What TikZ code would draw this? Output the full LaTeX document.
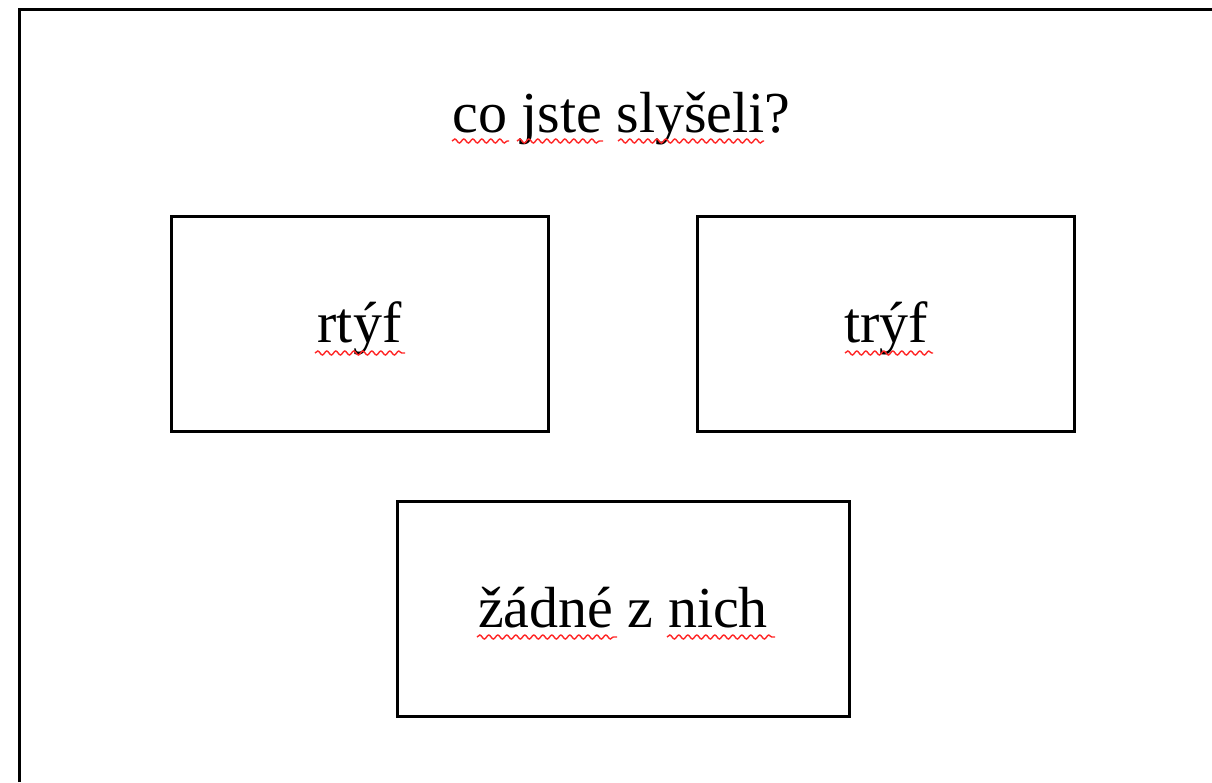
\documentclass[tikz,border=0pt]{standalone}
\usepackage{fontspec}
\setmainfont{Liberation Serif}
\usetikzlibrary{decorations.pathmorphing}
\tikzset{
  frame/.style={draw=black, line width=3pt},
  choice/.style={draw=black, line width=3pt, minimum width=377pt, minimum height=215pt, inner sep=0pt},
  bigchoice/.style={choice, minimum width=452pt},
  label/.style={anchor=base, inner sep=0pt, font=\fontsize{58}{60}\selectfont},
  spell/.style={draw=red!85!white, line width=1.4pt, decorate, decoration={snake, segment length=9pt, amplitude=2pt}}
}
\begin{document}
\begin{tikzpicture}[x=1pt,y=-1pt]
\useasboundingbox (0,0) rectangle (1212,782);
\fill[white] (0,0) rectangle (1212,782);
\draw[frame] (19,782) -- (19,9.5) -- (1212,9.5);

\node[label] (title) at (621.5,132) {co jste slyšeli?};

\node[choice] (b1) at (359.5,323.5) {};
\node[choice] (b2) at (886,323.5) {};
\node[bigchoice] (b3) at (623,609) {};

\node[label] (t1) at ([yshift=-19pt]b1.center) {rtýf};
\node[label] (t2) at ([yshift=-19pt]b2.center) {trýf};
\node[label] (t3) at ([yshift=-18pt]b3.center) {žádné z nich};

\draw[spell] (452,141) -- (509,141);
\draw[spell] (517,141) -- (603,141);
\draw[spell] (618,141) -- (764,141);
\draw[spell] (315,353) -- (405,353);
\draw[spell] (845,353) -- (933,353);
\draw[spell] (477,637) -- (617,637);
\draw[spell] (667,637) -- (775,637);
\end{tikzpicture}
\end{document}
